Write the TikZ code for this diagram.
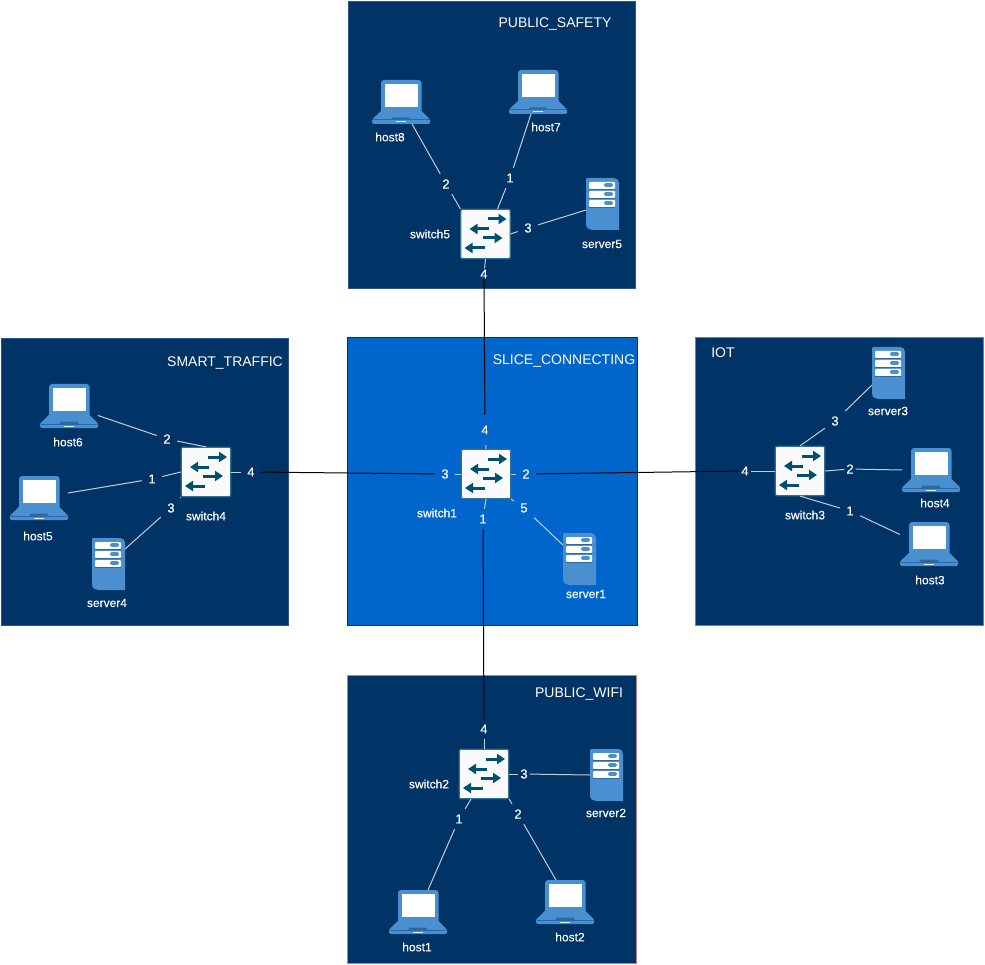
\documentclass[tikz,border=0pt]{standalone}
\usepackage{fontspec}
\setmainfont{Liberation Sans}
\newfontfamily\lblfont[FakeBold=0.2]{Liberation Sans}
\usetikzlibrary{arrows.meta}
\definecolor{zonedark}{HTML}{003366}
\definecolor{zonemid}{HTML}{0066CC}
\definecolor{edgesafe}{HTML}{2A5788}
\definecolor{edgeiot}{HTML}{6E8A6E}
\definecolor{edgewifi}{HTML}{C07F7F}
\definecolor{iconblue}{HTML}{4A90D0}
\definecolor{icondeep}{HTML}{2A68A6}
\definecolor{swline}{HTML}{2F6F8F}
\definecolor{swarrow}{HTML}{005073}
\definecolor{swfill}{HTML}{FAFAFA}
\definecolor{linkpale}{HTML}{C4CDD8}
\tikzset{
  x=1pt,y=-1pt,
  zone/.style={draw=#1,line width=.8pt,anchor=north west,inner sep=0pt,outer sep=0pt},
  title/.style={text=white,font=\fontsize{14}{16}\selectfont,inner sep=0pt},
  lbl/.style={text=white,font=\lblfont\fontsize{12}{14}\selectfont,inner sep=0pt},
  port/.style={text=white,font=\lblfont\fontsize{13}{15}\selectfont,inner sep=0pt,minimum width=20pt,minimum height=20pt},
  tight/.style={minimum width=11pt},
  short/.style={minimum height=11pt},
  tall/.style={minimum height=30pt},
  sw/.style={draw=swline,fill=swfill,line width=1.2pt,rounded corners=2pt,minimum size=49.6pt,inner sep=0pt,outer sep=.3pt},
  iconbox/.style={draw=none,inner sep=0pt,outer sep=0pt,anchor=north west},
  local/.style={draw=linkpale,line width=1pt},
  trunk/.style={draw=black,line width=1pt},
  swarr/.style={draw=swarrow,line width=3pt,-{Triangle[length=8pt,width=10pt]}},
}
% \laptopicon{name}{left}{top}
\newcommand{\laptopicon}[3]{%
  \node[iconbox,minimum width=58pt,minimum height=44pt] (#1) at (#2,#3) {};
  \begin{scope}[shift={(#2,#3)}]
    \fill[iconblue,rounded corners=3pt] (9,0) rectangle (49.5,36);
    \fill[white] (13,4) rectangle (46,27);
    \fill[iconblue] (9,31) -- (49.5,31) -- (58,39.5) -- (0,39.5) -- cycle;
    \fill[iconblue,rounded corners=1.5pt] (0,39) rectangle (58,44);
    \fill[icondeep] (1,39.5) rectangle (57,40.5);
    \fill[icondeep] (21,37.5) -- (37,37.5) -- (39,40) -- (19,40) -- cycle;
    \fill[white!80!iconblue] (24,41.5) rectangle (34,42.5);
  \end{scope}}
% \servericon{name}{left}{top}
\newcommand{\servericon}[3]{%
  \node[iconbox,minimum width=33pt,minimum height=52pt] (#1) at (#2,#3) {};
  \begin{scope}[shift={(#2,#3)}]
    \fill[iconblue] (0,1) .. controls (0,0.3) and (0.3,0) .. (1,0) -- (28,0) .. controls (31,0) and (33,2) .. (33,5) -- (33,52) -- (6,52) .. controls (3,52) and (0,50) .. (0,46) -- cycle;
    \foreach \yy in {4,13,22}{
      \fill[white,rounded corners=1pt] (3,\yy) rectangle (29,\yy+7);
      \fill[iconblue,rounded corners=1.5pt] (18,\yy+1.2) rectangle (27,\yy+4.8);
      \draw[icondeep,line width=.5pt] (3,\yy+7) -- (29,\yy+7);
    }
  \end{scope}}
% \switchicon{name}{cx}{cy}
\newcommand{\switchicon}[3]{%
  \node[sw] (#1) at (#2,#3) {};
  \begin{scope}[shift={(#2,#3)}]
    \draw[swarr] (2,-15) -- (21,-15);
    \draw[swarr] (3,-5) -- (-16,-5);
    \draw[swarr] (-3,4) -- (17,4);
    \draw[swarr] (-1,14) -- (-21,14);
  \end{scope}}
\begin{document}
\begin{tikzpicture}
\useasboundingbox (0,0) rectangle (985,965);
\fill[white] (0,0) rectangle (985,965);
% zones
\node[zone=edgesafe,fill=zonedark,minimum width=287.4pt,minimum height=287.4pt] (zsafety) at (348.3,1.2) {};
\node[zone=edgesafe,fill=zonedark,minimum width=287.4pt,minimum height=287.4pt] (ztraffic) at (1.2,338.2) {};
\node[zone=zonedark,fill=zonemid,minimum width=289.4pt,minimum height=288.4pt] (zslice) at (347.5,337.4) {};
\node[zone=edgeiot,fill=zonedark,minimum width=288.4pt,minimum height=288.4pt] (ziot) at (695.3,337.4) {};
\node[zone=edgewifi,fill=zonedark,minimum width=288.4pt,minimum height=288.4pt] (zwifi) at (347.5,675.2) {};
\node[title] (tsafety) at (555,24) {PUBLIC\_SAFETY};
\node[title] (ttraffic) at (225,363) {SMART\_TRAFFIC};
\node[title] (tslice) at (564,361) {SLICE\_CONNECTING};
\node[title] (tiot) at (723,353) {IOT};
\node[title] (twifi) at (579,694) {PUBLIC\_WIFI};
% switches
\switchicon{switch1}{486}{474}
\switchicon{switch2}{484}{774}
\switchicon{switch3}{800}{471}
\switchicon{switch4}{206}{472}
\switchicon{switch5}{485.5}{234}
% hosts
\laptopicon{host1}{389}{890}
\laptopicon{host2}{536}{880}
\laptopicon{host3}{900}{522}
\laptopicon{host4}{902}{448}
\laptopicon{host5}{10}{476}
\laptopicon{host6}{40}{384}
\laptopicon{host7}{509}{70}
\laptopicon{host8}{372}{80}
% servers
\servericon{server1}{563}{533}
\servericon{server2}{590}{749}
\servericon{server3}{872}{347}
\servericon{server4}{92}{538}
\servericon{server5}{586}{178}
% names
\node[lbl] (n1) at (437,513) {switch1};
\node[lbl] (n2) at (429,784) {switch2};
\node[lbl] (n3) at (805,515) {switch3};
\node[lbl] (n4) at (206,516) {switch4};
\node[lbl] (n5) at (430,234) {switch5};
\node[lbl] (m1) at (417,947) {host1};
\node[lbl] (m2) at (570,937) {host2};
\node[lbl] (m3) at (930,580) {host3};
\node[lbl] (m4) at (935,503) {host4};
\node[lbl] (m5) at (38,536) {host5};
\node[lbl] (m6) at (68,442) {host6};
\node[lbl] (m7) at (546,127) {host7};
\node[lbl] (m8) at (390,137) {host8};
\node[lbl] (s1) at (586,594) {server1};
\node[lbl] (s2) at (606,813) {server2};
\node[lbl] (s3) at (888,411) {server3};
\node[lbl] (s4) at (107,603) {server4};
\node[lbl] (s5) at (602,244) {server5};
% port labels
\node[port] (p5a) at (446,184) {2};
\node[port] (p5b) at (510,178) {1};
\node[port] (p5c) at (528,228) {3};
\node[port,short] (p5d) at (484,274) {4};
\node[port,tall] (p1a) at (485,430) {4};
\node[port] (p1b) at (445,474) {3};
\node[port] (p1c) at (526,474) {2};
\node[port] (p1d) at (524,508) {5};
\node[port] (p1e) at (483,519) {1};
\node[port] (p4a) at (167,439) {2};
\node[port] (p4b) at (152,479) {1};
\node[port] (p4c) at (171,508) {3};
\node[port] (p4d) at (251,472) {4};
\node[port] (p3a) at (835,421) {3};
\node[port,tight] (p3b) at (850,469) {2};
\node[port,tight] (p3c) at (745,471) {4};
\node[port] (p3d) at (850,511) {1};
\node[port] (p2a) at (484,729) {4};
\node[port,tight] (p2b) at (524,774) {3};
\node[port] (p2c) at (459,819) {1};
\node[port] (p2d) at (518,814) {2};
% trunks
\draw[trunk] (p5d) -- (p1a);
\draw[trunk] (p1b) -- (p4d);
\draw[trunk] (p1c) -- (p3c);
\draw[trunk] (p1e) -- (p2a);
% switch5
\draw[local] ([xshift=-18pt]host8.south east) -- (p5a);
\draw[local] (p5a) -- (switch5.north west);
\draw[local] ([xshift=-7pt]host7.south) -- (p5b);
\draw[local] (p5b) -- ([xshift=12pt]switch5.north);
\draw[local] ([yshift=-6pt]server5.west) -- (p5c);
\draw[local] (p5c) -- (switch5.east);
\draw[local] (switch5.south) -- (p5d);
% switch1
\draw[local] (switch1.north) -- (p1a);
\draw[local] (switch1.west) -- (p1b);
\draw[local] (switch1.east) -- (p1c);
\draw[local] (switch1.south east) -- (p1d);
\draw[local] (p1d) -- ([yshift=14pt]server1.west);
\draw[local] (switch1.south) -- (p1e);
% switch4
\draw[local] ([yshift=-9.5pt]host6.east) -- (p4a);
\draw[local] (p4a) -- (switch4.north);
\draw[local] ([yshift=5pt]host5.east) -- (p4b);
\draw[local] (p4b) -- (switch4.west);
\draw[local] ([yshift=15pt]server4.east) -- (p4c);
\draw[local] (p4c) -- (switch4.south west);
\draw[local] (switch4.east) -- (p4d);
% switch3
\draw[local] (switch3.north) -- (p3a);
\draw[local] (p3a) -- ([yshift=14pt]server3.south west);
\draw[local] (switch3.east) -- (p3b);
\draw[local] (p3b) -- (host4.west);
\draw[local] (switch3.west) -- (p3c);
\draw[local] (switch3.south) -- (p3d);
\draw[local] (p3d) -- ([yshift=9.5pt]host3.west);
% switch2
\draw[local] (switch2.north) -- (p2a);
\draw[local] (switch2.east) -- (p2b);
\draw[local] (p2b) -- (server2.west);
\draw[local] ([xshift=-13pt]switch2.south) -- (p2c);
\draw[local] (p2c) -- ([xshift=10pt]host1.north);
\draw[local] (switch2.south east) -- (p2d);
\draw[local] (p2d) -- ([xshift=-9pt]host2.north);
\end{tikzpicture}
\end{document}
